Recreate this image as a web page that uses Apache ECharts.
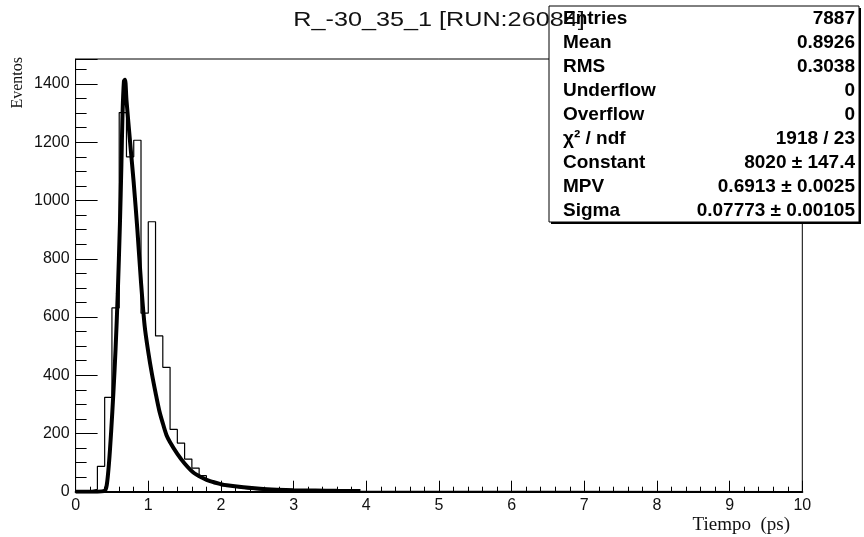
<!DOCTYPE html>
<html><head><meta charset="utf-8">
<script src="https://cdn.jsdelivr.net/npm/echarts@6/dist/echarts.min.js"></script>
<style>html,body{margin:0;padding:0;background:#fff}#c{width:864px;height:537px}</style>
</head><body><div id="c"></div>
<script>
// Time histogram, 0.1 ps bins starting at 0 (bins past the list are empty)
const binLow = 0;
const binWidth = 0.1;
const xMax = 10;
const counts = [0, 2, 8, 87, 324, 631, 1302, 1150, 1207, 613, 927, 535, 427, 214,
  167, 112, 81, 55, 38, 28, 20, 16, 12, 9, 7, 5, 4, 2];

// Landau fit curve, sampled
const fitX = [0.00, 0.30, 0.40, 0.43, 0.46, 0.49, 0.52, 0.55, 0.58, 0.61, 0.63, 0.645,
  0.665, 0.68, 0.70, 0.75, 0.80, 0.85, 0.90, 0.95, 1.00, 1.05, 1.10, 1.15, 1.20, 1.25,
  1.30, 1.40, 1.50, 1.62, 1.75, 1.85, 2.00, 2.08, 2.31, 2.54, 2.77, 3.00, 3.30, 3.60, 3.92];
const fitY = [0, 0, 3, 25, 100, 210, 340, 490, 680, 920, 1120, 1290,
  1410, 1415, 1345, 1200, 1060, 900, 720, 570, 480, 405, 340, 280, 235, 195,
  170, 130, 97, 66, 47, 36, 26, 22, 15, 10, 7, 5, 4, 3, 2];

// Axis ranges and tick steps
const yMax = 1486;
const yMajor = 200, yMinor = 50;
const xMajor = 1;

// Statistics panel
const statNames = ['Entries', 'Mean', 'RMS', 'Underflow', 'Overflow', 'χ² / ndf', 'Constant', 'MPV', 'Sigma'];
const statValues = ['7887', '0.8926', '0.3038', '0', '0', '1918 / 23', '8020 ± 147.4', '0.6913 ± 0.0025', '0.07773 ± 0.00105'];

const titleText = 'R_-30_35_1 [RUN:26084]';
const xTitle = 'Tiempo  (ps)';
const yTitle = 'Eventos';

const histData = counts.map((c, i) => [binLow + i * binWidth, c]);
histData.push([binLow + counts.length * binWidth, 0]);
histData.push([xMax, 0]);
const fitData = fitX.map((x, i) => [x, fitY[i]]);

const chart = echarts.init(document.getElementById('c'), null, {renderer: 'canvas'});
const sans = 'Liberation Sans, Arial, Helvetica, sans-serif';
const serif = 'Liberation Serif, Times New Roman, serif';

const statsLeft = 549, statsTop = 6, statsW = 310, statsH = 216, rowH = 24;
const statElems = [
  {type: 'rect', shape: {x: statsLeft + 2, y: statsTop + 2, width: statsW, height: statsH},
   style: {fill: '#000'}, z: 50},
  {type: 'rect', shape: {x: statsLeft, y: statsTop, width: statsW, height: statsH},
   style: {fill: '#fff', stroke: '#000', lineWidth: 1}, z: 51}
];
statNames.forEach((n, i) => {
  const cy = statsTop + 13 + i * rowH;
  statElems.push({type: 'text', x: statsLeft + 14, y: cy, z: 52,
    style: {text: n, font: 'bold 19px ' + sans, fill: '#000', textVerticalAlign: 'middle', textAlign: 'left'}});
  statElems.push({type: 'text', x: statsLeft + statsW - 4, y: cy, z: 52,
    style: {text: statValues[i], font: 'bold 19px ' + sans, fill: '#000', textVerticalAlign: 'middle', textAlign: 'right'}});
});

chart.setOption({
  animation: false,
  backgroundColor: '#fff',
  grid: {left: 75.6, right: 61.7, top: 59, bottom: 45.3, containLabel: false, outerBoundsMode: 'none',
    show: true, borderColor: '#000', borderWidth: 1},
  xAxis: {
    type: 'value', min: 0, max: xMax, interval: xMajor,
    axisLine: {lineStyle: {color: '#000', width: 2}},
    axisTick: {inside: true, length: 11, lineStyle: {color: '#000', width: 1}},
    minorTick: {show: true, splitNumber: 5, length: 5, lineStyle: {color: '#000', width: 1}},
    splitLine: {show: false},
    axisLabel: {color: '#111', fontSize: 16, fontFamily: sans, margin: 6}
  },
  yAxis: [{
    type: 'value', min: 0, max: yMax, interval: yMajor,
    axisLine: {show: true, lineStyle: {color: '#000', width: 1}},
    axisTick: {inside: true, length: 22, lineStyle: {color: '#000', width: 1}},
    splitLine: {show: false},
    axisLabel: {color: '#111', fontSize: 16, fontFamily: sans, margin: 6,
      formatter: v => (v % yMajor === 0 ? String(v) : '')},
  }, {
    type: 'value', min: 0, max: yMax, interval: yMinor, position: 'left',
    axisLine: {show: false},
    axisTick: {show: true, inside: true, length: 11, lineStyle: {color: '#000', width: 1}},
    axisLabel: {show: false},
    splitLine: {show: false}
  }],
  series: [{
    type: 'line', data: histData, step: 'end', showSymbol: false, yAxisIndex: 0,
    lineStyle: {color: '#000', width: 1.2}, z: 3
  }, {
    type: 'line', data: fitData, smooth: 0.3, showSymbol: false, yAxisIndex: 0,
    lineStyle: {color: '#000', width: 4}, z: 4
  }],
  graphic: statElems.concat([
    {type: 'text', x: 439, y: 20, z: 60, scaleX: 1.2,
     style: {text: titleText, font: '21px ' + sans, fill: '#111', textAlign: 'center', textVerticalAlign: 'middle'}},
    {type: 'text', x: 18, y: 57, rotation: Math.PI / 2, z: 60,
     style: {text: yTitle, font: '16px ' + serif, fill: '#111', textAlign: 'right', textVerticalAlign: 'middle'}},
    {type: 'text', x: 790, y: 525, z: 60,
     style: {text: xTitle, font: '19px ' + serif, fill: '#111', textAlign: 'right', textVerticalAlign: 'middle'}}
  ])
});
</script></body></html>
